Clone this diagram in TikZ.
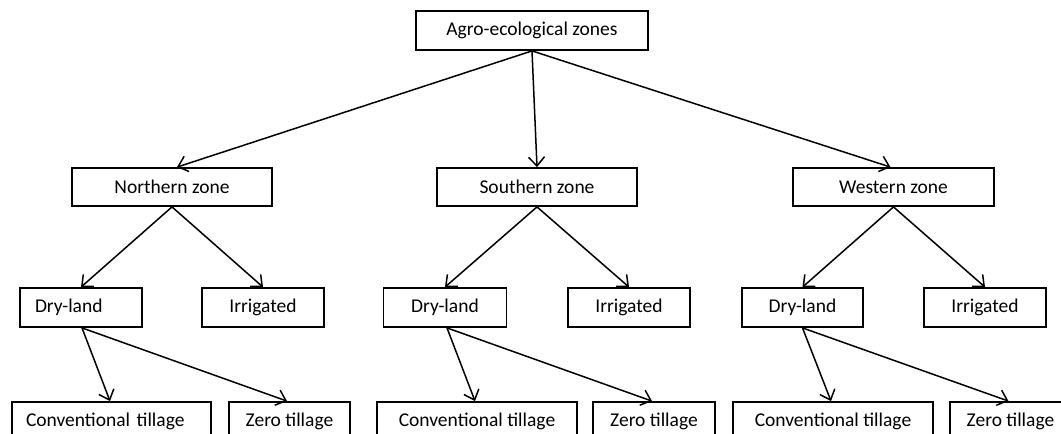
\documentclass[tikz,border=0pt]{standalone}
\usepackage{fontspec}
\setmainfont{Carlito}
\usetikzlibrary{arrows.meta, positioning}

\begin{document}
\begin{tikzpicture}[x=1pt, y=-1pt, font=\fontsize{19.5}{23}\selectfont]

  % Define styles
  \tikzstyle{block} = [rectangle, draw, line width=1.8pt, minimum height=39pt, inner sep=0pt]
  \tikzstyle{link} = [draw, line width=1.5pt, -{Straight Barb[length=9pt, width=16pt]}]

  \useasboundingbox (0,0) rectangle (1061,434);

  % Root
  \node[block, minimum width=232pt] (agro) at (532, 30.5) {Agro-ecological zones};

  % Zones
  \node[block, minimum width=200pt, minimum height=38pt] (north) at (172, 187) {Northern zone};
  \node[block, minimum width=200pt, minimum height=38pt] (south) at (537, 187) {Southern zone};
  \node[block, minimum width=201pt, minimum height=38pt] (west) at (893.5, 187) {Western zone};

  \draw[link] (agro.south) -- ([xshift=5pt]north.north);
  \draw[link] (agro.south) -- (south.north);
  \draw[link] (agro.south) -- ([xshift=-3pt]west.north);

  % Northern zone
  \node[block, text width=92pt, inner xsep=15pt, align=left] (ndry) at (81, 307.5) {Dry-land};
  \node[block, minimum width=122pt] (nirr) at (263, 307.5) {Irrigated};
  \node[block, text width=171pt, inner xsep=14pt, align=left] (nconv) at (111.5, 421.5) {Conventional tillage};
  \node[block, minimum width=121pt] (nzero) at (289.5, 421.5) {Zero tillage};

  \draw[link] (north.south) -- (ndry.north);
  \draw[link] (north.south) -- (nirr.north);
  \draw[link] ([xshift=1pt]ndry.south) -- ([xshift=-1.5pt]nconv.north);
  \draw[link] ([xshift=1pt]ndry.south) -- ([xshift=-2.5pt]nzero.north);

  % Southern zone
  \node[block, minimum width=123pt] (sdry) at (445, 307.5) {Dry-land};
  \node[block, minimum width=122pt] (sirr) at (629, 307.5) {Irrigated};
  \node[block, minimum width=200pt] (sconv) at (477, 421.5) {Conventional tillage};
  \node[block, minimum width=122pt] (szero) at (654, 421.5) {Zero tillage};

  \draw[link] (south.south) -- (sdry.north);
  \draw[link] (south.south) -- (sirr.north);
  \draw[link] ([xshift=2pt]sdry.south) -- ([xshift=-2pt]sconv.north);
  \draw[link] ([xshift=2pt]sdry.south) -- ([xshift=-2pt]szero.north);

  % Western zone
  \node[block, minimum width=121pt] (wdry) at (802.5, 307.5) {Dry-land};
  \node[block, minimum width=122pt] (wirr) at (985, 307.5) {Irrigated};
  \node[block, minimum width=200pt] (wconv) at (833, 421.5) {Conventional tillage};
  \node[block, minimum width=121pt] (wzero) at (1010.5, 421.5) {Zero tillage};

  \draw[link] (west.south) -- (wdry.north);
  \draw[link] (west.south) -- (wirr.north);
  \draw[link] (wdry.south) -- ([xshift=-2pt]wconv.north);
  \draw[link] (wdry.south) -- ([xshift=-2pt]wzero.north);

\end{tikzpicture}
\end{document}
